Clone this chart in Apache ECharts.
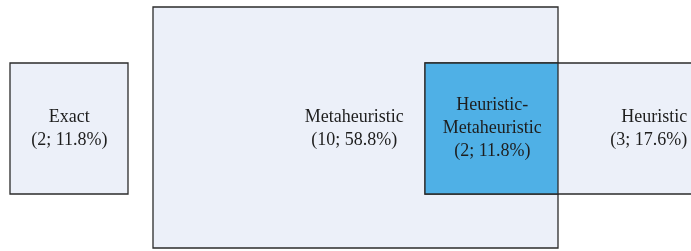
<!DOCTYPE html>
<html>
<head>
<meta charset="utf-8">
<style>
  html, body { margin: 0; padding: 0; background: #fff; }
  #chart { width: 691px; height: 251px; }
</style>
<script src="https://cdn.jsdelivr.net/npm/echarts@6/dist/echarts.min.js"></script>
</head>
<body>
<div id="chart"></div>
<script>
// groups of methods, drawn back to front
const groups = ['Metaheuristic', 'Exact', 'Heuristic', 'Heuristic-\nMetaheuristic'];
const counts = [10, 2, 3, 2];
const shares = ['58.8%', '11.8%', '17.6%', '11.8%'];
// box extents in diagram units: [x0, y0, x1, y1]
const boxes = [
  [153, 7, 558, 248],
  [10, 63, 128, 194],
  [425, 63, 705, 194],
  [425, 63, 558, 194]
];
// label anchor
const labelAt = [[355, 129], [70, 129], [688, 129], [493, 129]];

const fills = ['#ecf0f9', '#ecf0f9', '#ecf0f9', '#4fb0e6'];
const aligns = ['center', 'center', 'right', 'center'];

const chart = echarts.init(document.getElementById('chart'));

const data = boxes.map((b, i) => ({
  value: [b[0], b[1], b[2], b[3], labelAt[i][0], labelAt[i][1]],
  name: groups[i]
}));

chart.setOption({
  animation: false,
  grid: { left: 0, right: 0, top: 0, bottom: 0 },
  xAxis: { type: 'value', min: 0, max: 691, show: false },
  yAxis: { type: 'value', min: 0, max: 251, inverse: true, show: false },
  series: [{
    type: 'custom',
    clip: false,
    data: data,
    renderItem: function (params, api) {
      const i = params.dataIndex;
      const p0 = api.coord([api.value(0), api.value(1)]);
      const p1 = api.coord([api.value(2), api.value(3)]);
      const c = api.coord([api.value(4), api.value(5)]);
      return {
        type: 'rect',
        shape: { x: p0[0], y: p0[1], width: p1[0] - p0[0], height: p1[1] - p0[1] },
        style: { fill: fills[i], stroke: '#2b2b2b', lineWidth: 1.3 },
        textContent: {
          style: {
            text: groups[i] + '\n(' + counts[i] + '; ' + shares[i] + ')',
            fill: '#1e1e1e',
            fontFamily: 'Liberation Serif',
            fontSize: 18,
            lineHeight: 23,
            align: aligns[i],
            verticalAlign: 'middle'
          }
        },
        textConfig: { position: [c[0] - p0[0], c[1] - p0[1]] }
      };
    }
  }]
});
</script>
</body>
</html>
